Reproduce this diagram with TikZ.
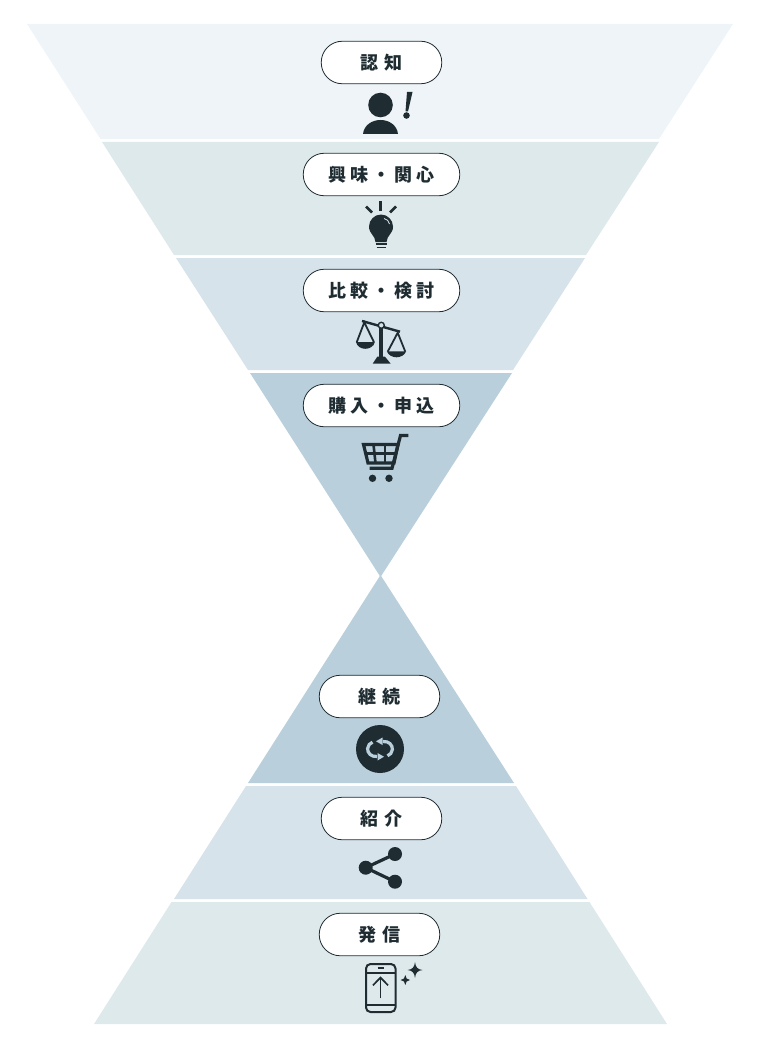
\documentclass[tikz,border=0pt]{standalone}
\usepackage{fontspec}
\newfontfamily\jpfont{Noto Sans CJK JP}
\definecolor{bandA}{HTML}{EEF4F7}
\definecolor{bandB}{HTML}{DEE9EC}
\definecolor{bandC}{HTML}{D6E3EA}
\definecolor{bandD}{HTML}{B9CFDB}
\definecolor{ink}{HTML}{1F2D33}
\tikzset{
  pill/.style={draw=ink,line width=0.8pt,fill=white,rounded corners=21pt,minimum height=42.5pt,inner sep=0pt,text=ink,font=\jpfont\bfseries\fontsize{18}{18}\selectfont},
  pillshort/.style={pill,minimum width=120.5pt},
  pilllong/.style={pill,minimum width=156.5pt},
}
\newcommand{\wsp}{\kern 4pt}
\newcommand{\nsp}{\kern 6pt}
\begin{document}
\begin{tikzpicture}[x=1pt,y=-1pt]
\useasboundingbox (0,0) rectangle (760,1043);
% bands
\fill[bandA] (27,24) -- (733,24) -- (659,139) -- (100.5,139) -- cycle;
\fill[bandB] (102,142) -- (659,142) -- (586,255) -- (174,255) -- cycle;
\fill[bandC] (176,258) -- (585,258) -- (513,370) -- (248,370) -- cycle;
\fill[bandD] (250,373) -- (512,373) -- (380.5,577) -- cycle;
\fill[bandD] (380.5,575) -- (514,783) -- (248,783) -- cycle;
\fill[bandC] (246,786) -- (516,786) -- (587.5,899) -- (174,899) -- cycle;
\fill[bandB] (171.5,902) -- (589.5,902) -- (667,1024) -- (94,1024) -- cycle;
% labels
\node[pillshort] (p1) at (381.5,62.5) {認\nsp 知};
\node[pilllong] (p2) at (381.5,174.5) {興\wsp 味\wsp ・\wsp 関\wsp 心};
\node[pilllong] (p3) at (381.5,290.5) {比\wsp 較\wsp ・\wsp 検\wsp 討};
\node[pilllong] (p4) at (381.5,405.5) {購\wsp 入\wsp ・\wsp 申\wsp 込};
\node[pillshort] (p5) at (379.5,696.5) {継\nsp 続};
\node[pillshort] (p6) at (381.5,818.5) {紹\nsp 介};
\node[pillshort] (p7) at (379.5,934.5) {発\nsp 信};
% person
\fill[ink] (380.5,105) circle (12.3);
\fill[ink] (363,134) .. controls (364,125) and (372,120) .. (380.5,120) .. controls (389,120) and (397,125) .. (398,134) -- cycle;
\fill[ink] (407,92) -- (412.5,92) -- (408,111.5) -- (405.5,111.5) -- cycle;
\fill[ink] (406.5,115.5) circle (3.3);
% bulb
\draw[ink,line width=2.6pt] (380.5,201) -- (380.5,211);
\draw[ink,line width=2.6pt] (366,206.5) -- (372,212.5);
\draw[ink,line width=2.6pt] (396,206.5) -- (390,212.5);
\fill[ink] (375.5,242) .. controls (375,235) and (369,234) .. (369,226.5) .. controls (369,220) and (374.5,214.5) .. (381,214.5) .. controls (387.5,214.5) and (393,220) .. (393,226.5) .. controls (393,234) and (387,235) .. (386.5,242) -- cycle;
\draw[bandB,line width=0.8pt] (384,218.5) .. controls (387,219) and (389,221) .. (389.5,224);
\draw[ink,line width=1.7pt] (375.5,244.3) -- (386.5,244.3);
\draw[ink,line width=1.5pt] (376.5,247.3) -- (385.5,247.3);
% scales
\draw[ink,line width=2.4pt] (362,321) -- (400,331.7);
\draw[ink,line width=4pt] (381.3,326) -- (381.3,358);
\fill[ink] (377.3,356.7) -- (385,356.7) -- (390.7,363.7) -- (372.7,363.7) -- cycle;
\draw[ink,line width=1.4pt,fill=bandC] (381.3,325.3) circle (3);
\draw[ink,line width=1.8pt] (356.7,342.3) -- (364.3,322.3) -- (374,342.3);
\draw[ink,line width=1.8pt] (387.7,351.7) -- (397.7,332.7) -- (405.3,351.7);
\fill[ink] (356,342) -- (374.8,342) .. controls (374,346.5) and (369.5,348.8) .. (365.3,348.8) .. controls (361,348.8) and (357,346.5) .. (356,342) -- cycle;
\fill[ink] (387,351.4) -- (406,351.4) .. controls (405,355) and (400.5,357.3) .. (396.5,357.3) .. controls (392.5,357.3) and (388,355) .. (387,351.4) -- cycle;
% cart
\draw[ink,line width=3.2pt] (408.3,435.5) -- (400.5,435.5) -- (392,468.3) -- (369.5,468.3);
\draw[ink,line width=3.2pt,line join=miter] (363.5,444.5) -- (398,444.5) -- (394,463) -- (368,463) -- cycle;
\draw[ink,line width=2.6pt] (365.5,453.5) -- (396,453.5);
\draw[ink,line width=2.6pt] (373.5,444.5) -- (375.5,463);
\draw[ink,line width=2.6pt] (385,444.5) -- (385,463);
\fill[ink] (372.5,478.3) circle (3.7);
\fill[ink] (389,478.3) circle (3.7);
% cycle
\fill[ink] (380,749) circle (24);
\draw[bandD,line width=3.2pt] (383,741.5) .. controls (389,741) and (392.6,745) .. (392.4,749.5) .. controls (392.2,752.5) and (390,755) .. (387.5,755.8);
\draw[bandD,line width=3.2pt] (377,756.5) .. controls (371,757) and (367.4,753) .. (367.6,748.5) .. controls (367.8,745.5) and (370,743) .. (372.5,742.2);
\fill[bandD] (376,741.3) -- (382.5,737.5) -- (382.5,745) -- cycle;
\fill[bandD] (384,756.7) -- (377.5,753) -- (377.5,760.5) -- cycle;
% share
\draw[ink,line width=3.2pt] (395,854) -- (365.7,867.7) -- (395,881.7);
\fill[ink] (395,854) circle (7);
\fill[ink] (365.7,867.7) circle (7);
\fill[ink] (395,881.7) circle (7);
% phone
\draw[ink,line width=2pt,rounded corners=4.5pt] (366,964) rectangle (395.5,1012);
\draw[ink,line width=1.7pt] (366,972.7) -- (395.5,972.7);
\draw[ink,line width=1.7pt] (366,1005) -- (395.5,1005);
\draw[ink,line width=1.8pt] (377.5,967.8) -- (383.5,967.8);
\draw[ink,line width=1.7pt] (380.5,998.3) -- (380.5,978);
\draw[ink,line width=1.7pt] (373,985.3) -- (380.5,977.5) -- (388,985.3);
\fill[ink] (415,962) .. controls (415.5,967) and (417.5,969.5) .. (422.5,970) .. controls (417.5,970.5) and (415.5,973) .. (415,978) .. controls (414.5,973) and (412.5,970.5) .. (407.5,970) .. controls (412.5,969.5) and (414.5,967) .. (415,962) -- cycle;
\fill[ink] (405.3,975) .. controls (405.6,978) and (407,979.7) .. (410,980) .. controls (407,980.3) and (405.6,982) .. (405.3,985) .. controls (405,982) and (403.6,980.3) .. (400.6,980) .. controls (403.6,979.7) and (405,978) .. (405.3,975) -- cycle;
\end{tikzpicture}
\end{document}
